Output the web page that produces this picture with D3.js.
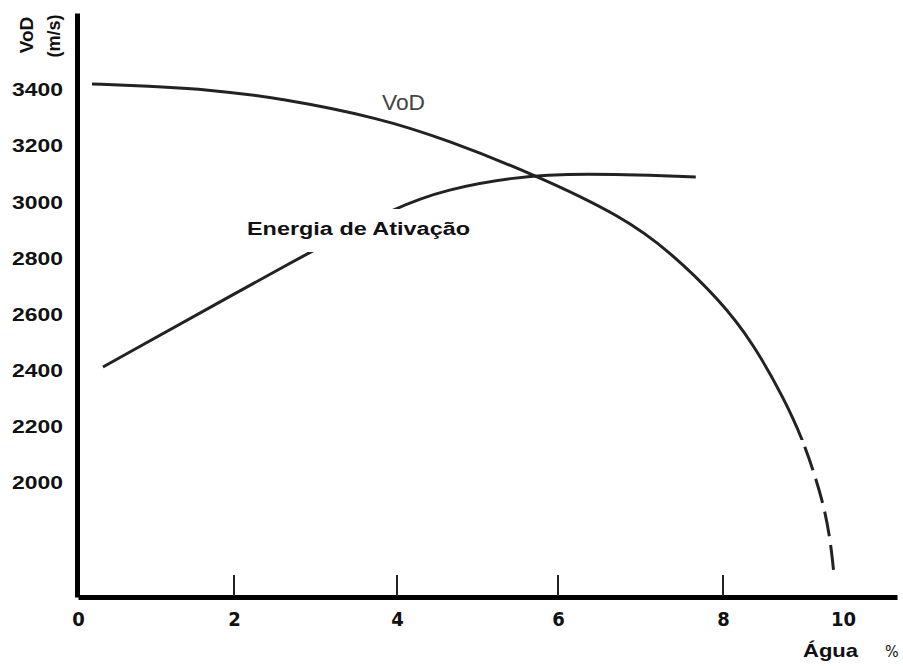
<!DOCTYPE html>
<html>
<head>
<meta charset="utf-8">
<script src="https://cdn.jsdelivr.net/npm/d3@7"></script>
<style>
  body { margin: 0; background: #fff; }
  svg { display: block; }
  text { font-family: 'Liberation Sans', Arial, sans-serif; fill: #111; }
</style>
</head>
<body>
<div class="chart"></div>
<script>
// valores
var xTicks = [0, 2, 4, 6, 8, 10];
var yTicks = [2000, 2200, 2400, 2600, 2800, 3000, 3200, 3400];

var aguaVod = [0.18, 0.88, 1.73, 2.56, 3.79, 4.62, 5.69, 6.79, 7.36, 7.96, 8.5, 9.03, 9.33, 9.53, 9.7, 9.8, 9.85];
var vod = [3421, 3414, 3400, 3371, 3300, 3222, 3101, 2948, 2823, 2652, 2499, 2296, 2153, 2028, 1904, 1779, 1672];
var vodTracejadoAbaixo = 2153; // abaixo disso a curva e tracejada

var aguaEnergia = [0.32, 2.9, 4.0, 4.62, 5.44, 6.27, 7.67];
var energia = [2413, 2819, 2985, 3046, 3090, 3104, 3090];

const width = 903
const height = 666

let svg = d3.select('.chart')
  .append('svg')
  .attr('width', width)
  .attr('height', height)

// eixo x do desenho original nao e uniforme, por isso escala por partes
let x = d3.scaleLinear()
  .domain([0, 2, 4, 6, 8, 10, 11])
  .range([78, 234, 397, 558, 723, 843, 897])

let y = d3.scaleLinear()
  .domain([1594, 3674])
  .range([597, 13])

let linha = d3.line()
  .x(d => x(d[0]))
  .y(d => y(d[1]))
  .curve(d3.curveBasis)

let yCorte = y(vodTracejadoAbaixo)

let defs = svg.append('defs')
defs.append('clipPath').attr('id', 'cima')
  .append('rect').attr('x', 0).attr('y', 0).attr('width', width).attr('height', yCorte)
defs.append('clipPath').attr('id', 'baixo')
  .append('rect').attr('x', 0).attr('y', yCorte).attr('width', width).attr('height', height - yCorte)

// curvas
svg.append('path')
  .datum(d3.zip(aguaEnergia, energia))
  .attr('d', linha)
  .attr('fill', 'none')
  .attr('stroke', '#222')
  .attr('stroke-width', 3)

let dadosVod = d3.zip(aguaVod, vod)

svg.append('path')
  .datum(dadosVod)
  .attr('d', linha)
  .attr('fill', 'none')
  .attr('stroke', '#222')
  .attr('stroke-width', 3)
  .attr('clip-path', 'url(#cima)')

let tracejado = svg.append('path')
  .datum(dadosVod)
  .attr('d', linha)
  .attr('fill', 'none')
  .attr('stroke', '#222')
  .attr('stroke-width', 3)
  .attr('clip-path', 'url(#baixo)')

// acha o comprimento onde a curva cruza o corte, para comecar o tracejado ali
let no = tracejado.node()
let total = no.getTotalLength()
let a = 0, b = total
for (let k = 0; k < 40; k++) {
  let m = (a + b) / 2
  if (no.getPointAtLength(m).y < yCorte) a = m; else b = m
}
tracejado
  .attr('stroke-dasharray', '25 9')
  .attr('stroke-dashoffset', 27 - a)

// rotulo da curva de energia com fundo branco
svg.append('rect')
  .attr('x', 240)
  .attr('y', 209)
  .attr('width', 240)
  .attr('height', 43)
  .attr('fill', '#fff')

svg.append('text')
  .attr('x', 247)
  .attr('y', 235)
  .attr('font-size', 18)
  .attr('font-weight', 'bold')
  .attr('textLength', 223)
  .attr('lengthAdjust', 'spacingAndGlyphs')
  .text('Energia de Ativação')

svg.append('text')
  .attr('x', 382)
  .attr('y', 110)
  .attr('font-size', 22)
  .attr('textLength', 43)
  .attr('lengthAdjust', 'spacingAndGlyphs')
  .style('fill', '#444')
  .text('VoD')

// eixo y
let eixoY = svg.append('g')
  .attr('transform', 'translate(77,0)')
  .call(d3.axisLeft(y).tickValues(yTicks).tickSize(0).tickSizeOuter(0).tickPadding(14).tickFormat(d3.format('d')))

eixoY.select('.domain')
  .attr('stroke', '#000')
  .attr('stroke-width', 5)

eixoY.selectAll('text')
  .attr('font-size', 18)
  .attr('font-weight', 'bold')
  .attr('textLength', 51)
  .attr('lengthAdjust', 'spacingAndGlyphs')
  .attr('font-family', null)
  .style('fill', '#111')

// eixo x
let eixoX = svg.append('g')
  .attr('transform', 'translate(0,597)')
  .call(d3.axisBottom(x).tickValues(xTicks).tickSize(0).tickSizeOuter(0).tickPadding(15))

eixoX.select('.domain')
  .attr('stroke', '#000')
  .attr('stroke-width', 5)

eixoX.selectAll('text')
  .attr('font-size', 20)
  .attr('font-weight', 'bold')
  .attr('font-family', null)
  .style('font-family', "'Liberation Sans Narrow', 'DejaVu Sans Condensed', sans-serif")
  .style('fill', '#111')

svg.selectAll('.tickx')
  .data([2, 4, 6, 8])
  .enter()
  .append('line')
  .attr('x1', d => x(d))
  .attr('x2', d => x(d))
  .attr('y1', 575)
  .attr('y2', 596)
  .attr('stroke', '#222')
  .attr('stroke-width', 2)

// titulos dos eixos
svg.append('text')
  .attr('transform', 'translate(33,35) rotate(-90)')
  .attr('text-anchor', 'middle')
  .attr('font-size', 19)
  .attr('font-weight', 'bold')
  .text('VoD')

svg.append('text')
  .attr('transform', 'translate(60,36) rotate(-90)')
  .attr('text-anchor', 'middle')
  .attr('font-size', 18)
  .attr('font-weight', 'bold')
  .text('(m/s)')

svg.append('text')
  .attr('x', 803)
  .attr('y', 657)
  .attr('font-size', 19)
  .attr('font-weight', 'bold')
  .attr('textLength', 55)
  .attr('lengthAdjust', 'spacingAndGlyphs')
  .text('Água')

svg.append('text')
  .attr('x', 885)
  .attr('y', 657)
  .attr('font-size', 16)
  .style('font-family', "'Liberation Sans Narrow', 'DejaVu Sans Condensed', sans-serif")
  .text('%')
</script>
</body>
</html>
